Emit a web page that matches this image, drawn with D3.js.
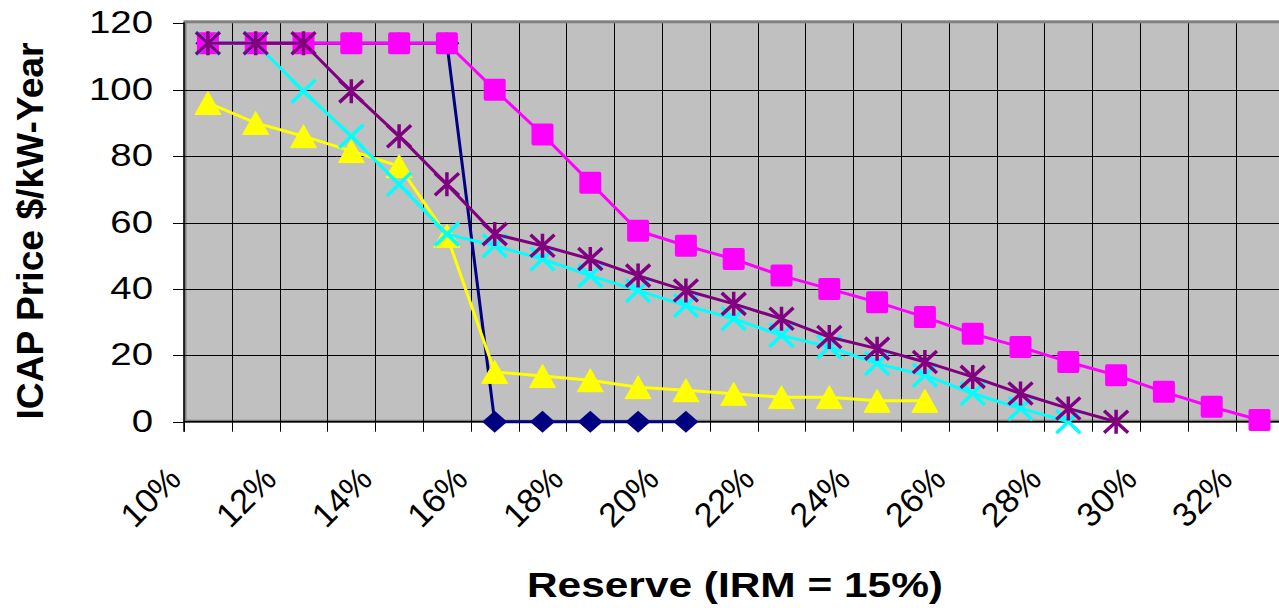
<!DOCTYPE html>
<html>
<head>
<meta charset="utf-8">
<script src="https://cdn.jsdelivr.net/npm/d3@7"></script>
<style>
  html, body { margin: 0; padding: 0; background: #fff; }
  svg { display: block; }
  text { font-family: "Liberation Sans", Arial, sans-serif; fill: #000; }
</style>
</head>
<body>
<svg id="chart" width="1279" height="608"></svg>
<script>
// ---- data ----
const categories = ["10%","11%","12%","13%","14%","15%","16%","17%","18%","19%","20%","21%","22%","23%","24%","25%","26%","27%","28%","29%","30%","31%","32%"];
const tickLabels = ["10%","12%","14%","16%","18%","20%","22%","24%","26%","28%","30%","32%"];
const yTicks = [0, 20, 40, 60, 80, 100, 120];

const navyValues    = [114,114,114,114,114,114,0,0,0,0,0];
const magentaValues = [114,114,114,114,114,114,100,86.5,72,57.5,53,49,44,40,36,31.5,26.5,22.5,18,14,9,4.5,0.5];
const yellowValues  = [96,90,86,81.5,77,56,15,13.8,12.5,10.4,9.5,8.4,7.4,7.4,6.3,6.3];
const cyanValues    = [114,114,99.5,86,71.5,56.5,53,49,44,39.5,35,31,26,22.5,17.5,14,8.5,4,0];
const purpleValues  = [114,114,114,99.5,86,71.5,56.5,53,49,44,39.5,35.5,31,25.5,22,18,13.5,8.5,4,0];

const series = [
  { name: "navy",    values: navyValues,    color: "#000080", marker: "diamond" },
  { name: "magenta", values: magentaValues, color: "#FF00FF", marker: "square" },
  { name: "yellow",  values: yellowValues,  color: "#FFFF00", marker: "triangle" },
  { name: "cyan",    values: cyanValues,    color: "#00FFFF", marker: "x" },
  { name: "purple",  values: purpleValues,  color: "#800080", marker: "star" }
];

// ---- layout ----
const plot = { left: 184, right: 1283.4, top: 23.3, bottom: 421.7 };
const svg = d3.select("#chart");

const x = d3.scaleBand().domain(categories).range([plot.left, plot.right]).paddingInner(0).paddingOuter(0);
const y = d3.scaleLinear().domain([0, 120]).range([plot.bottom, plot.top]);
const cx = c => x(c) + x.bandwidth() / 2;

// plot background
svg.append("rect")
  .attr("x", plot.left).attr("y", plot.top - 1)
  .attr("width", plot.right - plot.left).attr("height", plot.bottom - plot.top + 1)
  .attr("fill", "#C0C0C0");

// plot border (gray)
svg.append("rect")
  .attr("x", plot.left + 1).attr("y", plot.top - 1.5)
  .attr("width", plot.right - plot.left).attr("height", plot.bottom - plot.top + 1)
  .attr("fill", "none").attr("stroke", "#808080").attr("stroke-width", 3);

// vertical gridlines at category boundaries
const boundaries = categories.map(c => x(c)).concat([plot.right]);
svg.append("g").selectAll("line").data(boundaries.slice(1)).join("line")
  .attr("x1", d => Math.round(d) + 0.5).attr("x2", d => Math.round(d) + 0.5)
  .attr("y1", plot.top).attr("y2", plot.bottom)
  .attr("stroke", "#000").attr("stroke-width", 1);

// horizontal gridlines
svg.append("g").selectAll("line").data(yTicks.filter(v => v > 0 && v < 120)).join("line")
  .attr("x1", plot.left).attr("x2", plot.right)
  .attr("y1", d => Math.round(y(d)) + 0.5).attr("y2", d => Math.round(y(d)) + 0.5)
  .attr("stroke", "#000").attr("stroke-width", 1);

// axes lines
svg.append("line").attr("x1", plot.left).attr("x2", plot.left)
  .attr("y1", plot.top - 1).attr("y2", plot.bottom + 10)
  .attr("stroke", "#000").attr("stroke-width", 1.5);
svg.append("line").attr("x1", plot.left).attr("x2", plot.right)
  .attr("y1", plot.bottom).attr("y2", plot.bottom)
  .attr("stroke", "#000").attr("stroke-width", 1.5);

// y ticks
svg.append("g").selectAll("line").data(yTicks).join("line")
  .attr("x1", plot.left - 11).attr("x2", plot.left)
  .attr("y1", d => Math.round(y(d)) + 0.5).attr("y2", d => Math.round(y(d)) + 0.5)
  .attr("stroke", "#000").attr("stroke-width", 1);
svg.append("g").selectAll("text").data(yTicks).join("text")
  .attr("transform", d => `translate(153,${y(d) + 10}) scale(1.2,1)`)
  .attr("text-anchor", "end")
  .attr("font-size", 32)
  .text(d => d);

// x ticks
svg.append("g").selectAll("line").data(boundaries).join("line")
  .attr("x1", d => Math.round(d) + 0.5).attr("x2", d => Math.round(d) + 0.5)
  .attr("y1", plot.bottom).attr("y2", plot.bottom + 10)
  .attr("stroke", "#000").attr("stroke-width", 1);
svg.append("g").selectAll("text").data(tickLabels).join("text")
  .attr("transform", d => `translate(${cx(d) - 25},481) rotate(-45)`)
  .attr("text-anchor", "end")
  .attr("font-size", 34)
  .text(d => d);

// axis titles
svg.append("text")
  .attr("transform", "translate(43,231) rotate(-90)")
  .attr("text-anchor", "middle")
  .attr("font-size", 36).attr("font-weight", "bold")
  .attr("textLength", 377).attr("lengthAdjust", "spacingAndGlyphs")
  .text("ICAP Price $/kW-Year");
svg.append("text")
  .attr("x", 735).attr("y", 597)
  .attr("text-anchor", "middle")
  .attr("font-size", 35).attr("font-weight", "bold")
  .attr("textLength", 416).attr("lengthAdjust", "spacingAndGlyphs")
  .text("Reserve (IRM = 15%)");

// series
const line = d3.line().x(d => cx(d.cat)).y(d => y(d.v));
function drawMarker(g, type, color) {
  if (type === "diamond") {
    g.append("path").attr("d", "M0,-11L12.5,0L0,11L-12.5,0Z").attr("fill", color);
  } else if (type === "square") {
    g.append("rect").attr("x", -11).attr("y", -11).attr("width", 22).attr("height", 22)
      .attr("rx", 2).attr("fill", color);
  } else if (type === "triangle") {
    g.append("path").attr("d", "M0,-11.5L13,11.5L-13,11.5Z").attr("fill", color)
      .attr("stroke", color).attr("stroke-width", 1).attr("stroke-linejoin", "round");
  } else if (type === "x") {
    g.append("path").attr("d", "M-12,-11.5L12,11.5M-12,11.5L12,-11.5")
      .attr("stroke", color).attr("stroke-width", 3.5).attr("fill", "none");
  } else if (type === "star") {
    g.append("path").attr("d", "M-12,-11L12,11M-12,11L12,-11M0,-12L0,12")
      .attr("stroke", color).attr("stroke-width", 3.5).attr("fill", "none");
  }
}

series.forEach(s => {
  const pts = s.values.map((v, i) => ({ cat: categories[i], v }));
  const g = svg.append("g");
  g.append("path").datum(pts).attr("d", line)
    .attr("fill", "none").attr("stroke", s.color).attr("stroke-width", 3)
    .attr("stroke-linejoin", "round");
  pts.forEach(p => {
    const m = g.append("g").attr("transform", `translate(${cx(p.cat)},${y(p.v)})`);
    drawMarker(m, s.marker, s.color);
  });
});
</script>
</body>
</html>
